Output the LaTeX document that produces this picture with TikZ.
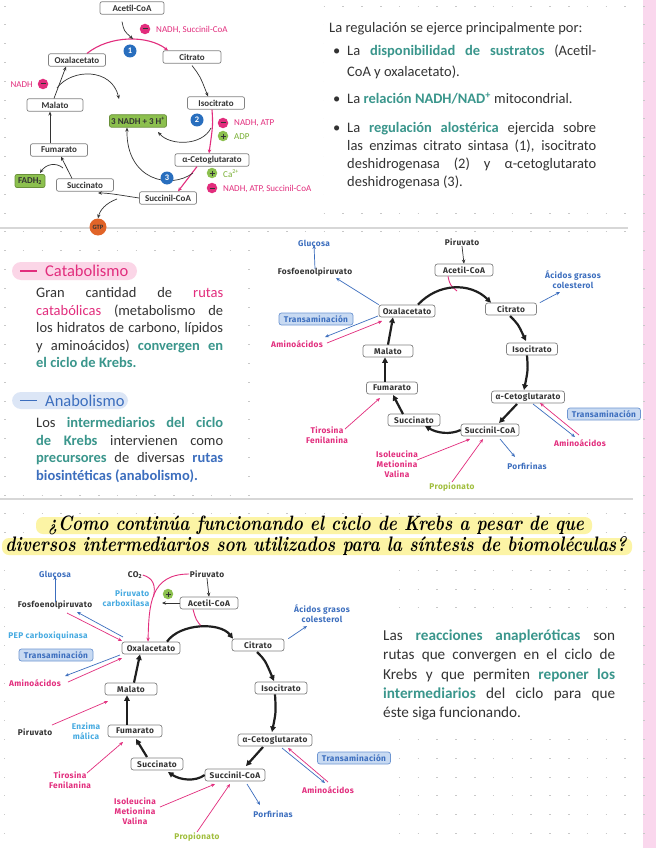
\documentclass[tikz,border=0pt]{standalone}
\usepackage{fontspec}
\usepackage{graphicx}
\usetikzlibrary{arrows.meta}
\newfontfamily\calib{Carlito}
\newfontfamily\dinf{Fira Sans}[LetterSpace=4]
\definecolor{pk}{RGB}{226,45,125}
\definecolor{tealc}{RGB}{58,150,140}
\definecolor{bl}{RGB}{60,110,190}
\definecolor{lbl}{RGB}{70,170,225}
\definecolor{grc}{RGB}{120,175,50}
\definecolor{dk}{RGB}{51,51,51}
\definecolor{boxg}{RGB}{130,130,130}
\definecolor{gfill}{RGB}{140,192,78}
\definecolor{orng}{RGB}{225,100,40}
\definecolor{trfill}{RGB}{200,218,242}
\definecolor{trdraw}{RGB}{110,150,210}
\definecolor{pinkl}{RGB}{251,214,231}
\definecolor{bluel}{RGB}{220,230,246}
\definecolor{strip}{RGB}{250,215,237}
\definecolor{yel}{RGB}{252,244,165}
\definecolor{sepc}{RGB}{215,215,215}
\definecolor{numb}{RGB}{40,110,190}
\definecolor{propc}{RGB}{160,190,60}
\definecolor{dotc}{RGB}{200,200,200}
\newcommand{\jl}[2]{\makebox[#1pt][s]{#2}}
\newcommand{\tcx}[1]{\textcolor{tealc}{\bfseries #1}}
\newcommand{\pkx}[1]{\textcolor{pk}{#1}}
\newcommand{\blx}[1]{\textcolor{bl}{\bfseries #1}}
\tikzset{
 tb/.style={draw=boxg, line width=0.7pt, rounded corners=2pt, fill=white, minimum height=12.5pt, inner sep=0pt, font=\calib\bfseries\fontsize{9}{10}\selectfont, text=dk},
 db/.style={draw=boxg, line width=0.7pt, rounded corners=2.5pt, fill=white, minimum height=12pt, inner sep=0pt, font=\dinf\bfseries\fontsize{8.3}{9}\selectfont, text=dk},
 gbox/.style={tb, fill=gfill, draw=gfill!75!black},
 trb/.style={db, fill=trfill, draw=trdraw, text=bl},
 dl/.style={font=\dinf\bfseries\fontsize{8.3}{10}\selectfont, inner sep=0.5pt, align=center},
 lab/.style={font=\calib\fontsize{9}{9}\selectfont, inner sep=0pt, anchor=west},
 numc/.style={circle, fill=numb, text=white, minimum size=13pt, inner sep=0pt, font=\calib\bfseries\fontsize{8.5}{8.5}\selectfont},
 minusc/.style={circle, fill=pk, minimum size=10.5pt, inner sep=0pt,
   path picture={\draw[dk, line width=1pt] ([xshift=-2.5pt]path picture bounding box.center) -- ([xshift=2.5pt]path picture bounding box.center);}},
 plusc/.style={circle, fill=gfill, minimum size=10.5pt, inner sep=0pt,
   path picture={\draw[dk, line width=0.9pt] ([xshift=-2.5pt]path picture bounding box.center) -- ([xshift=2.5pt]path picture bounding box.center) ([yshift=-2.5pt]path picture bounding box.center) -- ([yshift=2.5pt]path picture bounding box.center);}},
 arr/.style={-{Stealth[length=4pt,width=3.4pt]}, line width=0.7pt},
 karr/.style={arr, draw=dk},
 tarr/.style={-{Triangle[length=5.5pt,width=5.5pt]}, line width=2.2pt, draw=black!88},
 parr/.style={arr, draw=pk},
 barr/.style={arr, draw=bl},
 body/.style={font=\calib\fontsize{14.5}{16}\selectfont, anchor=base west, inner sep=0pt, text=dk},
 bodyl/.style={body, font=\calib\fontsize{15.2}{17}\selectfont},
}
\begin{document}
\begin{tikzpicture}[x=1pt,y=-1pt]
\useasboundingbox (0,0) rectangle (656,848);
\fill[white] (0,0) rectangle (656,848);
\fill[strip] (643,0) rectangle (656,848);
\foreach \i in {0,...,34} \foreach \j in {0,...,45} {\draw[dotc, line width=0.6pt] ({4+18.8*\i},{6+18.8*\j}) -- ++(1.6,0);}
% white blocks behind content
\fill[white] (6,0) rectangle (318,222);
\fill[white] (324,10) rectangle (630,198);
\fill[white] (10,256) rectangle (234,486);
\fill[white] (256,232) rectangle (640,496);
\fill[white] (5,562) rectangle (396,846);
\fill[white] (378,622) rectangle (630,728);
% separators
\draw[sepc, line width=2.5pt] (0,228) -- (628,228);
\draw[sepc, line width=2.5pt] (0,499) -- (633,499);

%%%%%%%%%%%%%%%% TOP-LEFT CYCLE
\node[tb, minimum width=64pt] (acA) at (132,8) {Acetil-CoA};
\node[tb, minimum width=57pt] (oxA) at (77,60) {Oxalacetato};
\node[tb, minimum width=58pt] (ciA) at (192,57) {Citrato};
\node[tb, minimum width=57pt] (isA) at (216,103) {Isocitrato};
\node[tb, minimum width=56pt] (maA) at (55,105) {Malato};
\node[gbox, minimum width=57pt] (nadhA) at (138,121) {3 NADH + 3 H\textsuperscript{+}};
\node[tb, minimum width=74pt] (akA) at (212,160) {α-Cetoglutarato};
\node[tb, minimum width=57pt] (scA) at (168,198) {Succinil-CoA};
\node[tb, minimum width=57pt] (suA) at (85,185) {Succinato};
\node[gbox, minimum width=30pt, minimum height=13pt] (fadA) at (30,181) {FADH\textsubscript{2}};
\node[tb, minimum width=57pt] (fuA) at (59,150) {Fumarato};
\node[circle, fill=orng, minimum size=17pt, inner sep=0pt, font=\calib\bfseries\fontsize{6.5}{6.5}\selectfont, text=dk] (gtpA) at (98,227) {GTP};

\draw[parr, line width=1.1pt] ([xshift=10pt]oxA.north) .. controls (110,35) and (148,35) .. ([xshift=-24pt]ciA.north);
\draw[karr] ([shift={(-10,7)}]acA.south) .. controls (124,31) .. (133,39);
\node[numc] (n1) at (130,51) {1};
\node[minusc] (m1) at (145,29) {};
\node[lab, text=pk] (t1) at (156,30) {NADH, Succinil-CoA};

\draw[karr] ([shift={(0,2)}]ciA.south) .. controls (200,76) .. ([xshift=-8pt]isA.north);
\draw[karr] ([xshift=-1pt]maA.north) -- ([xshift=-11pt]oxA.south);
\draw[karr] (57,88) .. controls (72,68) and (112,68) .. (119,99);
\node[minusc] (m2) at (43,84) {};
\node[lab, text=pk, anchor=east] (t2) at (33,85) {NADH};

\draw[karr] ([xshift=-9pt]fuA.north) -- ([xshift=-5pt]maA.south);
\draw[karr] ([xshift=-13pt]suA.north) -- ([xshift=2pt]fuA.south);
\draw[karr] (63,168) .. controls (56,162) and (46,164) .. (40,173);
\draw[karr] (scA.west) .. controls (125,196) and (110,193) .. (98,193);
\draw[karr] (117,199) .. controls (106,203) and (100,210) .. (gtpA.north);

\draw[parr, line width=1.1pt] ([xshift=-4pt]isA.south) .. controls (213,125) .. ([xshift=-3pt]akA.north);
\draw[karr] (211,128) .. controls (202,146) and (170,146) .. (158,132);
\node[numc] (n2) at (197,120) {2};
\node[minusc] (m3) at (223,123) {};
\node[lab, text=pk] (t3) at (234,123.5) {NADH, ATP};
\node[plusc] (p1) at (223,136) {};
\node[lab, text=grc] (t4) at (234,136.5) {ADP};

\draw[parr, line width=1.1pt] ([xshift=-15pt]akA.south) -- ([xshift=10pt]scA.north);
\draw[karr] (193,173) .. controls (170,190) and (126,180) .. ([xshift=-11pt]nadhA.south);
\node[numc] (n3) at (167,178) {3};
\node[plusc] (p2) at (212,173) {};
\node[lab, text=grc] (t5) at (223,173.5) {Ca\textsuperscript{2+}};
\node[minusc] (m4) at (212,188) {};
\node[lab, text=pk] (t6) at (223,188.5) {NADH, ATP, Succinil-CoA};

%%%%%%%%%%%%%%%% TOP-RIGHT TEXT
\node[body] (r0) at (329,33) {La regulación se ejerce principalmente por:};
\node[body] (b1) at (333,56) {•};
\node[body] (r1) at (347,56) {\jl{249}{La \tcx{disponibilidad de sustratos} (Acetil-}};
\node[body] (r2) at (347,77) {CoA y oxalacetato).};
\node[body] (b2) at (333,104) {•};
\node[body] (r3) at (347,104) {La \tcx{relación NADH/NAD\textsuperscript{+}} mitocondrial.};
\node[body] (b3) at (333,132) {•};
\node[body] (r4) at (347,132) {\jl{249}{La \tcx{regulación alostérica} ejercida sobre}};
\node[body] (r5) at (347,150) {\jl{249}{las enzimas citrato sintasa (1), isocitrato}};
\node[body] (r6) at (347,168) {\jl{249}{deshidrogenasa (2) y α-cetoglutarato}};
\node[body] (r7) at (347,186) {deshidrogenasa (3).};

%%%%%%%%%%%%%%%% MIDDLE LEFT TEXT
\fill[pinkl, rounded corners=9pt] (12,262) rectangle (137,280);
\draw[pk, line width=1.6pt] (20,271) -- (37,271);
\node[font=\calib\fontsize{16.5}{18}\selectfont, text=pk, anchor=west, inner sep=0pt] (cat) at (45,271) {Catabolismo};
\node[body] (c1) at (36,297) {\jl{187}{Gran cantidad de \pkx{rutas}}};
\node[body] (c2) at (36,315) {\jl{187}{\pkx{catabólicas} (metabolismo de}};
\node[body] (c3) at (36,332) {\jl{187}{los hidratos de carbono, lípidos}};
\node[body] (c4) at (36,350) {\jl{187}{y aminoácidos) \tcx{convergen en}}};
\node[body] (c5) at (36,367) {\tcx{el ciclo de Krebs.}};

\fill[bluel, rounded corners=9pt] (12,392) rectangle (128,409);
\draw[bl, line width=1.6pt] (20,400.5) -- (37,400.5);
\node[font=\calib\fontsize{16.5}{18}\selectfont, text=bl, anchor=west, inner sep=0pt] (ana) at (45,400.5) {Anabolismo};
\node[body] (a1) at (36,427) {\jl{187}{Los \tcx{intermediarios del ciclo}}};
\node[body] (a2) at (36,445) {\jl{187}{\tcx{de Krebs} intervienen como}};
\node[body] (a3) at (36,462) {\jl{187}{\tcx{precursores} de diversas \blx{rutas}}};
\node[body] (a4) at (36,480) {\blx{biosintéticas (anabolismo).}};

%%%%%%%%%%%%%%%% MIDDLE DIAGRAM
\node[dl, text=bl] (glu2) at (314,243) {Glucosa};
\node[dl, text=dk] (fep2) at (315,272) {Fosfoenolpiruvato};
\node[dl, text=dk] (pir2) at (462,242) {Piruvato};
\node[db, minimum width=58pt] (ac2) at (464,270) {Acetil-CoA};
\node[dl, text=bl] (ag2) at (573,280) {Ácidos grasos\\colesterol};
\node[db, minimum width=56pt] (ox2) at (407,311) {Oxalacetato};
\node[db, minimum width=51pt] (ci2) at (511,309) {Citrato};
\node[trb, minimum width=74pt] (tr2) at (316,319) {Transaminación};
\node[dl, text=pk] (aa2) at (297,344) {Aminoácidos};
\node[db, minimum width=51pt] (is2) at (532,349) {Isocitrato};
\node[db, minimum width=50pt] (ma2) at (388,351) {Malato};
\node[db, minimum width=51pt] (fu2) at (392,388) {Fumarato};
\node[db, minimum width=73pt] (ak2) at (528,397) {α-Cetoglutarato};
\node[db, minimum width=52pt] (su2) at (414,420) {Succinato};
\node[db, minimum width=58pt] (sc2) at (490,430) {Succinil-CoA};
\node[trb, minimum width=73pt] (tr2b) at (604,414) {Transaminación};
\node[dl, text=pk] (aa2b) at (580,443) {Aminoácidos};
\node[dl, text=pk] (ty2) at (327,435) {Tirosina\\Fenilanina};
\node[dl, text=pk] (iso2) at (397,464) {Isoleucina\\Metionina\\Valina};
\node[dl, text=propc] (pro2) at (452,487) {Propionato};
\node[dl, text=bl] (por2) at (527,466) {Porfirinas};

\draw[barr] ([yshift=-2pt]fep2.north) -- ([yshift=2pt]glu2.south);
\draw[karr] (pir2.south) -- (ac2.north);
\draw[pk, line width=0.9pt] ([xshift=-16pt]ac2.south) .. controls (450,285) .. (457,291);
\draw[tarr] ([xshift=11pt]ox2.north) .. controls (438,283) and (470,282) .. ([xshift=-20pt]ci2.north);
\draw[barr] ([xshift=3pt]ci2.north east) -- (560,292);
\draw[barr] (ox2.north west) -- (336,278);
\draw[barr] (378,316) -- (325,337);
\draw[parr] (327,343) -- (382,321);
\draw[tarr] (510,316) .. controls (518,324) .. (526,341);
\draw[tarr] (ma2.north) -- ([xshift=-14pt]ox2.south);
\draw[tarr] ([xshift=-7pt]fu2.north) -- ([xshift=-3pt]ma2.south);
\draw[tarr] ([xshift=-5pt]is2.south) .. controls (528,370) .. (524,390);
\draw[tarr] (517,404) -- (499,423);
\draw[tarr] (sc2.west) .. controls (450,435) and (437,433) .. (425,426);
\draw[tarr] (403,414) -- (393,395);
\draw[barr] (533,404) -- (575,437);
\draw[parr] (579,435) -- (540,403);
\draw[parr] (345,429) -- (380,398);
\draw[parr] (417,460) -- (470,439);
\draw[parr] (pro2.north) -- (483,439);
\draw[barr] (500,439) -- (515,457);

%%%%%%%%%%%%%%%% TITLE
\fill[yel, rounded corners=7pt] (36,517) rectangle (592,534);
\fill[yel, rounded corners=7pt] (2,538) rectangle (632,555);
\node[inner sep=0pt] (ti1) at (316,525) {\resizebox*{536pt}{19pt}{\bfseries\itshape ¿Como continúa funcionando el ciclo de Krebs a pesar de que}};
\node[inner sep=0pt] (ti2) at (316,546) {\resizebox*{621pt}{19pt}{\bfseries\itshape diversos intermediarios son utilizados para la síntesis de biomoléculas?}};

%%%%%%%%%%%%%%%% BOTTOM DIAGRAM
\node[dl, text=bl] (glu3) at (55,574) {Glucosa};
\node[dl, text=dk] (fep3) at (55,605) {Fosfoenolpiruvato};
\node[dl, text=dk] (co3) at (135,575) {CO\textsubscript{2}};
\node[dl, text=dk] (pir3) at (207,574) {Piruvato};
\node[dl, text=lbl, align=right, anchor=east] (pc3) at (150,598) {Piruvato\\carboxilasa};
\node[plusc] (pl3) at (168,594) {};
\node[db, minimum width=58pt] (ac3) at (209,603) {Acetil-CoA};
\node[dl, text=bl] (ag3) at (322,614) {Ácidos grasos\\colesterol};
\node[db, minimum width=58pt] (ox3) at (151,648) {Oxalacetato};
\node[db, minimum width=52pt] (ci3) at (258,645) {Citrato};
\node[dl, text=lbl] (pep3) at (48,636) {PEP carboxiquinasa};
\node[trb, minimum width=74pt] (tr3) at (56,655) {Transaminación};
\node[dl, text=pk] (aa3) at (35,683) {Aminoácidos};
\node[db, minimum width=52pt] (ma3) at (131,689) {Malato};
\node[db, minimum width=52pt] (is3) at (281,688) {Isocitrato};
\node[dl, text=dk] (pv3) at (35,732) {Piruvato};
\node[dl, text=lbl] (em3) at (86,731) {Enzima\\málica};
\node[db, minimum width=54pt] (fu3) at (135,731) {Fumarato};
\node[db, minimum width=74pt] (ak3) at (275,740) {α-Cetoglutarato};
\node[trb, minimum width=73pt] (tr3b) at (354,758) {Transaminación};
\node[dl, text=pk] (aa3b) at (328,790) {Aminoácidos};
\node[db, minimum width=52pt] (su3) at (157,764) {Succinato};
\node[db, minimum width=60pt] (sc3) at (235,775) {Succinil-CoA};
\node[dl, text=pk] (ty3) at (70,780) {Tirosina\\Fenilanina};
\node[dl, text=pk] (iso3) at (135,811) {Isoleucina\\Metionina\\Valina};
\node[dl, text=propc] (pro3) at (197,837) {Propionato};
\node[dl, text=bl] (por3) at (273,814) {Porfirinas};

\draw[barr] ([yshift=-2pt]fep3.north) -- ([yshift=2pt]glu3.south);
\draw[karr] (pir3.south) -- (ac3.north);
\draw[pk, line width=0.9pt, -{Stealth[length=4pt,width=3.4pt]}] (pir3.west) .. controls (150,574) and (149,605) .. ([xshift=-3pt]ox3.north);
\draw[pk, line width=0.9pt] (co3.east) .. controls (153,578) and (156,585) .. (153.5,597);
\draw[karr] (ac3.west) -- (162,603);
\draw[pk, line width=0.9pt] ([xshift=-16pt]ac3.south) .. controls (196,620) .. (202,627);
\draw[tarr] ([xshift=16pt]ox3.north) .. controls (180,623) and (220,622) .. ([xshift=-25pt]ci3.north);
\draw[barr] ([xshift=4pt]ci3.north east) -- (307,626);
\draw[parr] (67,613) -- (122,641);
\draw[barr] (123,637) -- (77,612);
\draw[barr] (120,655) -- (65,676);
\draw[parr] (68,682) -- (122,658);
\draw[tarr] ([xshift=3pt]ma3.north) -- ([xshift=-11pt]ox3.south);
\draw[tarr] (257,652) .. controls (265,660) .. (274,681);
\draw[tarr] ([xshift=-8pt]fu3.north) -- ([xshift=-4pt]ma3.south);
\draw[tarr] ([xshift=-6pt]is3.south) .. controls (276,712) .. (272,732);
\draw[parr] (52,725) -- (108,701);
\draw[barr] (282,748) -- (325,783);
\draw[parr] (328,782) -- (288,748);
\draw[tarr] (263,747) -- (246,766);
\draw[tarr] (sc3.west) .. controls (195,782) and (180,780) .. (168,772);
\draw[tarr] (147,757) -- (136,739);
\draw[parr] (87,773) -- (123,742);
\draw[parr] (160,807) -- (215,784);
\draw[parr] (pro3.north) -- (230,784);
\draw[barr] (247,784) -- (260,805);

%%%%%%%%%%%%%%%% BOTTOM-RIGHT TEXT
\node[bodyl] (d1) at (383,640) {\jl{232}{Las \tcx{reacciones anapleróticas} son}};
\node[bodyl] (d2) at (383,659) {\jl{232}{rutas que convergen en el ciclo de}};
\node[bodyl] (d3) at (383,679) {\jl{232}{Krebs y que permiten \tcx{reponer los}}};
\node[bodyl] (d4) at (383,698) {\jl{232}{\tcx{intermediarios} del ciclo para que}};
\node[bodyl] (d5) at (383,717) {éste siga funcionando.};
\end{tikzpicture}
\end{document}
